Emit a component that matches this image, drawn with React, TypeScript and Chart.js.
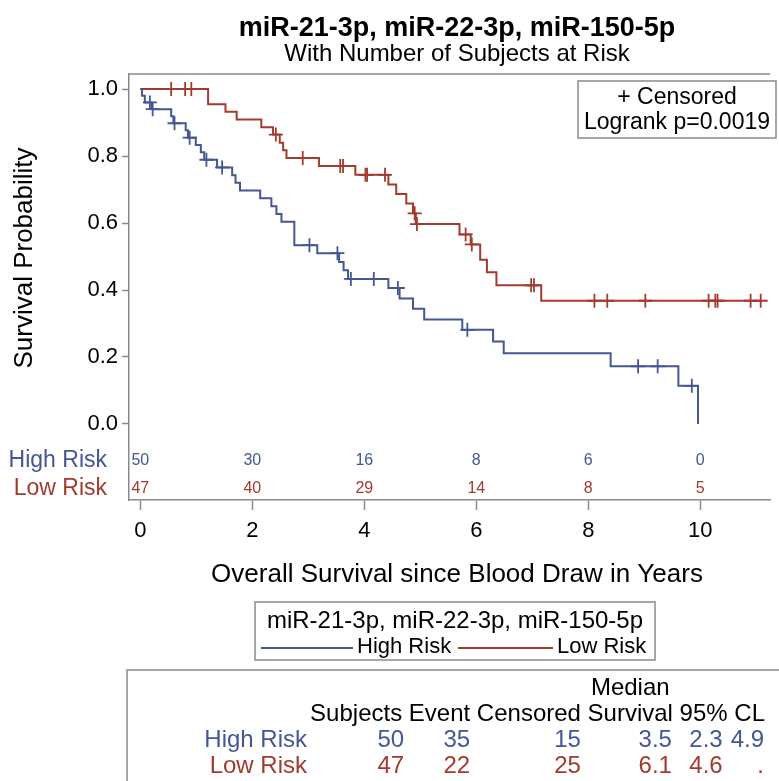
import { useEffect, useRef } from "react";
import { Chart, registerables } from "chart.js";

Chart.register(...registerables);

// ---------------- data ----------------
const TITLE = "miR-21-3p, miR-22-3p, miR-150-5p";
const SUBTITLE = "With Number of Subjects at Risk";
const X_TITLE = "Overall Survival since Blood Draw in Years";
const Y_TITLE = "Survival Probability";
const GROUPS = ["High Risk", "Low Risk"];

// High Risk: event times and survival after each event
const highTimes = [0.03, 0.08, 0.2, 0.55, 0.59, 0.81, 0.85, 0.99, 1.08, 1.14, 1.37, 1.64, 1.7, 1.78, 2.14, 2.34, 2.43, 2.52, 2.75, 3.16, 3.55, 3.63, 3.71, 4.43, 4.63, 4.87, 5.07, 5.75, 6.3, 6.49, 8.4, 9.61, 9.96];
const highSurv = [0.98, 0.96, 0.94, 0.919, 0.898, 0.877, 0.855, 0.833, 0.811, 0.789, 0.766, 0.743, 0.72, 0.697, 0.674, 0.65, 0.627, 0.604, 0.534, 0.51, 0.484, 0.459, 0.433, 0.406, 0.375, 0.344, 0.312, 0.281, 0.246, 0.211, 0.172, 0.114, 0.0];
const highCensor = [0.17, 0.22, 0.61, 0.88, 1.18, 1.46, 3.02, 3.52, 3.76, 4.17, 4.6, 5.84, 8.89, 9.24, 9.85];

// Low Risk
const lowTimes = [1.21, 1.52, 1.72, 2.16, 2.37, 2.49, 2.55, 2.61, 3.19, 3.84, 4.43, 4.57, 4.75, 4.87, 4.92, 5.7, 5.9, 6.07, 6.19, 6.36, 7.16];
const lowSurv = [0.955, 0.932, 0.909, 0.886, 0.864, 0.84, 0.817, 0.794, 0.77, 0.744, 0.715, 0.687, 0.658, 0.629, 0.597, 0.566, 0.536, 0.49, 0.453, 0.414, 0.368];
const lowCensor = [0.55, 0.8, 0.91, 2.42, 2.9, 3.57, 3.62, 4.02, 4.05, 4.37, 4.9, 4.94, 5.81, 5.92, 6.98, 7.03, 8.11, 8.34, 9.02, 10.15, 10.27, 10.31, 10.9, 11.08];

// number at risk
const riskTimes = [0, 2, 4, 6, 8, 10];
const highAtRisk = [50, 30, 16, 8, 6, 0];
const lowAtRisk = [47, 40, 29, 14, 8, 5];

const xTicks = [0, 2, 4, 6, 8, 10];
const yTicks = [0, 0.2, 0.4, 0.6, 0.8, 1.0];

// summary table
const tableHeader = ["Subjects", "Event", "Censored", "Survival", "95%", "CL"];
const subjects = [50, 47];
const events = [35, 22];
const censored = [15, 25];
const medianSurv = ["3.5", "6.1"];
const lowerCL = ["2.3", "4.6"];
const upperCL = ["4.9", "."];

const LEGEND_TITLE = "miR-21-3p, miR-22-3p, miR-150-5p";
const CENSOR_LABEL = "+ Censored";
const LOGRANK_LABEL = "Logrank p=0.0019";

// ---------------- styles ----------------
const FONT = '"Liberation Sans", Arial, Helvetica, sans-serif';
const BLUE = "#445694";
const RED = "#A23A2E";
const FRAME = "#8a8a8a";

function survAt(times: number[], surv: number[], t: number): number {
  let s = 1;
  for (let i = 0; i < times.length; i++) {
    if (times[i] <= t) s = surv[i];
  }
  return s;
}

function stepPoints(times: number[], surv: number[], endT?: number) {
  const pts = [{ x: 0, y: 1 }];
  times.forEach((t, i) => pts.push({ x: t, y: surv[i] }));
  if (endT !== undefined) pts.push({ x: endT, y: surv[surv.length - 1] });
  return pts;
}

function txt(ctx: CanvasRenderingContext2D, s: string, x: number, y: number, font: string, color: string, align: CanvasTextAlign) {
  ctx.font = font;
  ctx.fillStyle = color;
  ctx.textAlign = align;
  ctx.textBaseline = "middle";
  ctx.fillText(s, x, y);
}

const decor = {
  id: "decor",
  afterDraw(chart: any) {
    const { ctx, chartArea, scales } = chart;
    const xs = scales.x;
    ctx.save();
    // top frame line
    ctx.strokeStyle = FRAME;
    ctx.lineWidth = 1.5;
    ctx.beginPath();
    ctx.moveTo(chartArea.left, chartArea.top);
    ctx.lineTo(chartArea.right, chartArea.top);
    ctx.stroke();

    // titles
    txt(ctx, TITLE, 457, 29, `bold 27px ${FONT}`, "#000", "center");
    txt(ctx, SUBTITLE, 457, 54, `24px ${FONT}`, "#000", "center");

    // y title
    ctx.save();
    ctx.translate(25, 258);
    ctx.rotate(-Math.PI / 2);
    txt(ctx, Y_TITLE, 0, 0, `26px ${FONT}`, "#000", "center");
    ctx.restore();

    // x title
    txt(ctx, X_TITLE, 457, 575, `26px ${FONT}`, "#000", "center");

    // at-risk rows
    const rowY = [chartArea.bottom - 39, chartArea.bottom - 11];
    const colors = [BLUE, RED];
    const risks = [highAtRisk, lowAtRisk];
    for (let g = 0; g < 2; g++) {
      txt(ctx, GROUPS[g], 107, rowY[g], `23px ${FONT}`, colors[g], "right");
      riskTimes.forEach((t, i) => {
        txt(ctx, String(risks[g][i]), xs.getPixelForValue(t), rowY[g], `16px ${FONT}`, colors[g], "center");
      });
    }

    // censored / logrank box
    ctx.fillStyle = "#fff";
    ctx.fillRect(578, 81, 198, 57);
    ctx.strokeStyle = FRAME;
    ctx.lineWidth = 1.5;
    ctx.strokeRect(578, 81, 198, 57);
    txt(ctx, CENSOR_LABEL, 677, 98, `23px ${FONT}`, "#000", "center");
    txt(ctx, LOGRANK_LABEL, 677, 123, `23px ${FONT}`, "#000", "center");

    // legend box
    ctx.strokeStyle = FRAME;
    ctx.strokeRect(255, 602, 400, 58);
    txt(ctx, LEGEND_TITLE, 455, 621, `24px ${FONT}`, "#000", "center");
    ctx.lineWidth = 2;
    ctx.strokeStyle = BLUE;
    ctx.beginPath();
    ctx.moveTo(261, 648);
    ctx.lineTo(353, 648);
    ctx.stroke();
    txt(ctx, GROUPS[0], 357, 647, `22px ${FONT}`, "#000", "left");
    ctx.strokeStyle = RED;
    ctx.beginPath();
    ctx.moveTo(458, 648);
    ctx.lineTo(553, 648);
    ctx.stroke();
    txt(ctx, GROUPS[1], 557, 647, `22px ${FONT}`, "#000", "left");

    // summary table frame
    ctx.strokeStyle = FRAME;
    ctx.lineWidth = 1.5;
    ctx.beginPath();
    ctx.moveTo(127, 800);
    ctx.lineTo(127, 670);
    ctx.lineTo(800, 670);
    ctx.stroke();

    const tf = `24px ${FONT}`;
    ctx.font = tf;
    const headerRight = 765;
    const full = tableHeader.join(" ");
    const startX = headerRight - ctx.measureText(full).width;
    const ends: number[] = [];
    const starts: number[] = [];
    for (let i = 0; i < tableHeader.length; i++) {
      const pre = tableHeader.slice(0, i).join(" ") + (i > 0 ? " " : "");
      starts.push(startX + ctx.measureText(pre).width);
      ends.push(startX + ctx.measureText(tableHeader.slice(0, i + 1).join(" ")).width);
    }
    txt(ctx, full, startX, 714, tf, "#000", "left");
    txt(ctx, "Median", (starts[3] + ends[3]) / 2, 688, tf, "#000", "center");

    const tableY = [740, 766];
    for (let g = 0; g < 2; g++) {
      const c = colors[g];
      const y = tableY[g];
      txt(ctx, GROUPS[g], 307, y, tf, c, "right");
      txt(ctx, String(subjects[g]), ends[0] + 2, y, tf, c, "right");
      txt(ctx, String(events[g]), ends[1], y, tf, c, "right");
      txt(ctx, String(censored[g]), ends[2], y, tf, c, "right");
      txt(ctx, medianSurv[g], ends[3] - 1, y, tf, c, "right");
      txt(ctx, lowerCL[g], ends[4] - 5, y, tf, c, "right");
      txt(ctx, upperCL[g], ends[5] - 1, y, tf, c, "right");
    }
    ctx.restore();
  },
};

export default function App() {
  const ref = useRef<HTMLCanvasElement>(null);
  useEffect(() => {
    document.body.style.margin = "0";
    const canvas = ref.current!;
    const chart = new Chart(canvas, {
      type: "scatter",
      data: {
        datasets: [
          {
            label: GROUPS[0],
            data: stepPoints(highTimes, highSurv),
            showLine: true,
            stepped: "before",
            borderColor: BLUE,
            borderWidth: 2,
            pointRadius: 0,
            fill: false,
          },
          {
            label: GROUPS[1],
            data: stepPoints(lowTimes, lowSurv, lowCensor[lowCensor.length - 1]),
            showLine: true,
            stepped: "before",
            borderColor: RED,
            borderWidth: 2,
            pointRadius: 0,
            fill: false,
          },
          {
            label: "High censored",
            data: highCensor.map((t) => ({ x: t, y: survAt(highTimes, highSurv, t) })),
            pointStyle: "cross",
            pointRadius: 7,
            borderColor: BLUE,
            borderWidth: 1.8,
            showLine: false,
          },
          {
            label: "Low censored",
            data: lowCensor.map((t) => ({ x: t, y: survAt(lowTimes, lowSurv, t) })),
            pointStyle: "cross",
            pointRadius: 7,
            borderColor: RED,
            borderWidth: 1.8,
            showLine: false,
          },
        ] as any,
      },
      options: {
        animation: false,
        responsive: true,
        maintainAspectRatio: false,
        layout: { padding: { left: 0, top: 74, right: 0, bottom: 236 } },
        plugins: { legend: { display: false }, tooltip: { enabled: false }, title: { display: false } },
        events: [],
        scales: {
          x: {
            type: "linear",
            min: -0.203,
            max: 11.25,
            afterBuildTicks: (s: any) => {
              s.ticks = xTicks.map((v) => ({ value: v }));
            },
            afterFit: (s: any) => {
              s.height = 45;
            },
            ticks: {
              font: { family: FONT, size: 22 },
              color: "#000",
              padding: 8,
              maxRotation: 0,
              autoSkip: false,
            },
            grid: { drawOnChartArea: false, drawTicks: true, tickLength: 10, tickColor: FRAME, tickWidth: 1.5 },
            border: { color: FRAME, width: 1.5 },
          },
          y: {
            type: "linear",
            min: -0.227,
            max: 1.045,
            afterBuildTicks: (s: any) => {
              s.ticks = yTicks.map((v) => ({ value: v }));
            },
            afterFit: (s: any) => {
              s.width = 129;
            },
            ticks: {
              font: { family: FONT, size: 22 },
              color: "#000",
              padding: 4,
              callback: (v: any) => Number(v).toFixed(1),
              autoSkip: false,
            },
            grid: { drawOnChartArea: false, drawTicks: true, tickLength: 7, tickColor: FRAME, tickWidth: 1.5 },
            border: { color: FRAME, width: 1.5 },
          },
        },
      },
      plugins: [decor],
    });
    return () => chart.destroy();
  }, []);
  return (
    <div style={{ width: 779, height: 781, position: "relative" }}>
      <canvas ref={ref} style={{ display: "block" }} />
    </div>
  );
}
